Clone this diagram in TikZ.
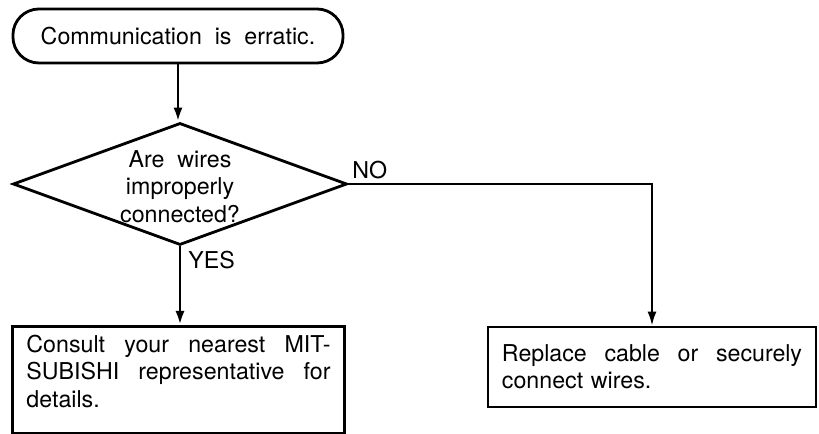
\documentclass[tikz,border=0pt]{standalone}
\usepackage{fontspec}
\setmainfont{TeX Gyre Heros}
\usetikzlibrary{shapes.geometric,arrows.meta}

\tikzset{
  flow/.style={line width=2pt,-{Latex[length=10pt,width=6.5pt]}},
  startbox/.style={draw,line width=2pt,rounded corners=0.65cm,minimum width=8.25cm,minimum height=1.35cm,font=\fontsize{16.5}{19}\selectfont},
  askbox/.style={draw,diamond,line width=2pt,aspect=2.74,inner sep=0pt,minimum width=8.35cm,minimum height=3.05cm,align=center,font=\fontsize{16.5}{19.5}\selectfont},
  textbox/.style={draw,line width=2pt,text width=7.6cm,align=left,inner xsep=0.35cm,font=\fontsize{16.5}{19.5}\selectfont},
  answer/.style={font=\fontsize{16.5}{19}\selectfont,inner sep=2pt}
}

\begin{document}
\begin{tikzpicture}[x=0.025cm,y=0.025cm]
\useasboundingbox (0,0) rectangle (819,433);
\node[startbox] (start) at (178,397) {Communication\ \ is\ \ erratic.};
\node[askbox] (ask) at (180,249) {\\[-4pt]Are\ \ wires\\improperly\\connected?};
\node[textbox,anchor=north,inner ysep=6pt,text depth=52pt] (mits) at (178.5,108) {Consult\hfill your\hfill nearest\hfill MIT-\\SUBISHI\hfill representative\hfill for\\details.};
\node[textbox,text width=7.5cm,minimum height=2cm] (cable) at (652,66) {Replace\hfill cable\hfill or\hfill securely\\connect wires.};
\coordinate (bend) at (cable.north |- ask.east);
\draw[flow] (start.south) -- (start.south |- ask.north);
\draw[flow] (ask.south) -- node[answer,pos=0.17,anchor=west,xshift=3pt] (yes) {YES} (ask.south |- mits.north);
\draw[flow,line width=1.5pt] (ask.east) -- node[answer,pos=0,anchor=south west,yshift=1pt] (no) {NO} (bend) -- (cable.north);
\end{tikzpicture}
\end{document}
